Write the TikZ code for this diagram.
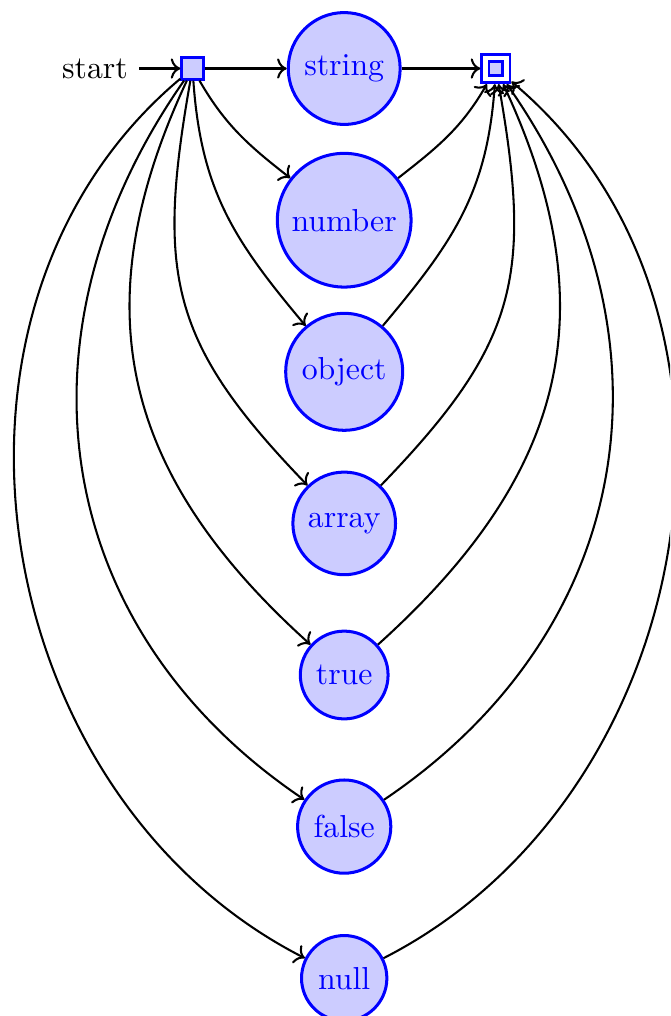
\documentclass[tikz,border=0pt]{standalone}
\usetikzlibrary{arrows.meta}
\begin{document}
\begin{tikzpicture}[x=0.3145pt,y=0.3145pt,
  statenode/.style={circle,draw=blue,fill=blue!20,line width=0.95pt,text=blue},
  initnode/.style={rectangle,draw=blue,fill=blue!20,line width=0.95pt,inner sep=0pt,minimum size=6.67pt},
  acceptnode/.style={rectangle,draw=blue,fill=blue!20,line width=0.9pt,double=white,double distance=1.4pt,inner sep=0pt,minimum size=6.6pt,outer sep=1.6pt},
  trans/.style={->,line width=0.65pt}]
\path[use as bounding box] (0,0) rectangle (670,-1016);
\clip (0,0) rectangle (670,-1016);
\node (start) at (95,-68.5) {start};
\node[initnode] (init) at (192.5,-68.5) {};
\node[statenode] (string) at (344.2,-68.5) {string};
\node[acceptnode] (accept) at (495.9,-68.5) {};
\node[statenode] (number) at (344.2,-220.2) {number};
\node[statenode] (object) at (344.2,-371.8) {object};
\node[statenode] (array) at (344.2,-523.4) {array};
\node[statenode] (true) at (344.2,-675.0) {true};
\node[statenode] (false) at (344.2,-826.6) {false};
\node[statenode] (null) at (344.2,-978.2) {null};
\draw[trans] (start) -- (init);
\draw[trans] (init) -- (string);
\draw[trans] (string) -- (accept);
\draw[trans] (init) to[out=-60,in=142,looseness=1] (number);
\draw[trans] (init) to[out=-86,in=130,looseness=1.05] (object);
\draw[trans] (init) to[out=-100,in=134,looseness=1.2] (array);
\draw[trans] (init) to[out=-115,in=138,looseness=1.12] (true);
\draw[trans] (init) to[out=-125,in=146,looseness=1.08] (false);
\draw[trans] (init) to[out=-140,in=153,looseness=1.03] (null);
\draw[trans] (number) to[out=38,in=-120,looseness=1] (accept);
\draw[trans] (object) to[out=50,in=-94,looseness=1.05] (accept);
\draw[trans] (array) to[out=46,in=-80,looseness=1.2] (accept);
\draw[trans] (true) to[out=42,in=-65,looseness=1.12] (accept);
\draw[trans] (false) to[out=34,in=-55,looseness=1.08] (accept);
\draw[trans] (null) to[out=27,in=-40,looseness=1.03] (accept);
\end{tikzpicture}
\end{document}
